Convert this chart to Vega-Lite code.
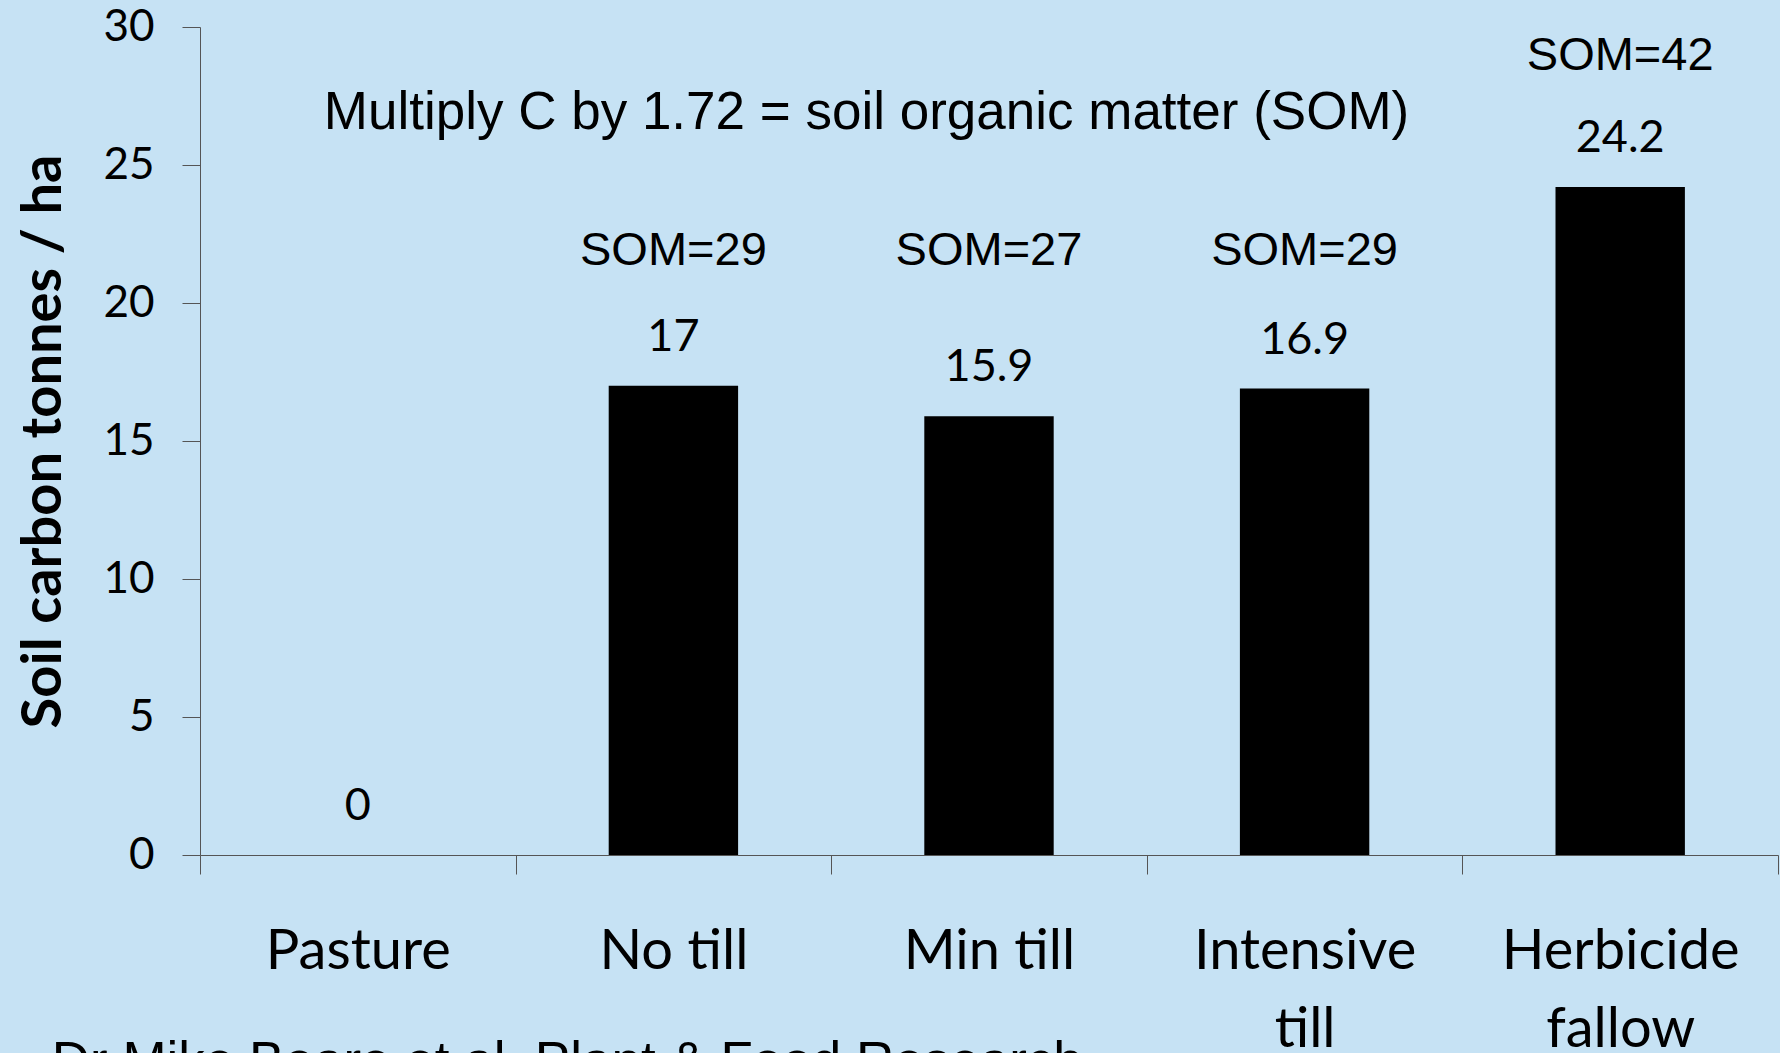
{
  "$schema": "https://vega.github.io/schema/vega-lite/v6.json",
  "width": 1578,
  "height": 828,
  "autosize": {"type": "none"},
  "padding": {"left": 200, "top": 27, "right": 2, "bottom": 198},
  "background": "#C6E2F4",
  "config": {
    "view": {"stroke": null},
    "axis": {"grid": false, "domainColor": "#555555", "tickColor": "#555555", "labelColor": "#000000", "titleColor": "#000000"}
  },
  "datasets": {
    "soil": [
      {"Treatment": "Pasture", "Carbon": 0, "SOM": null},
      {"Treatment": "No till", "Carbon": 17, "SOM": "SOM=29"},
      {"Treatment": "Min till", "Carbon": 15.9, "SOM": "SOM=27"},
      {"Treatment": "Intensive till", "Carbon": 16.9, "SOM": "SOM=29"},
      {"Treatment": "Herbicide fallow", "Carbon": 24.2, "SOM": "SOM=42"}
    ]
  },
  "data": {"name": "soil"},
  "layer": [
    {
      "mark": {"type": "bar", "color": "#000000", "width": {"band": 0.41}},
      "encoding": {
        "x": {
          "field": "Treatment", "type": "nominal", "sort": null,
          "scale": {"paddingInner": 0, "paddingOuter": 0},
          "axis": {
            "title": null, "labelAngle": 0, "tickBand": "extent", "tickSize": 19,
            "labelFont": "Lato", "labelFontSize": 56, "labelPadding": 50, "labelLineHeight": 78, "labelLimit": 0,
            "labelExpr": "datum.label == 'Intensive till' ? ['Intensive', 'till'] : datum.label == 'Herbicide fallow' ? ['Herbicide', 'fallow'] : datum.label"
          }
        },
        "y": {
          "field": "Carbon", "type": "quantitative",
          "scale": {"domain": [0, 30], "nice": false},
          "axis": {
            "title": "Soil carbon tonnes / ha", "values": [0, 5, 10, 15, 20, 25, 30],
            "tickSize": 18, "labelPadding": 28, "labelFont": "Lato", "labelFontSize": 44,
            "titleFont": "Lato", "titleFontWeight": "bold", "titleFontSize": 56, "titlePadding": 30
          }
        }
      }
    },
    {
      "mark": {"type": "text", "font": "Lato", "fontSize": 45, "baseline": "alphabetic", "dy": -35, "color": "#000000"},
      "encoding": {
        "x": {"field": "Treatment", "type": "nominal", "sort": null},
        "y": {"field": "Carbon", "type": "quantitative"},
        "text": {"field": "Carbon", "type": "quantitative"}
      }
    },
    {
      "transform": [{"filter": "datum.SOM != null && datum.Treatment != 'Herbicide fallow'"}],
      "mark": {"type": "text", "font": "Liberation Sans", "fontSize": 47, "baseline": "alphabetic", "color": "#000000"},
      "encoding": {
        "x": {"field": "Treatment", "type": "nominal", "sort": null},
        "y": {"datum": 21.37},
        "text": {"field": "SOM"}
      }
    },
    {
      "transform": [{"filter": "datum.Treatment == 'Herbicide fallow'"}],
      "mark": {"type": "text", "font": "Liberation Sans", "fontSize": 47, "baseline": "alphabetic", "color": "#000000"},
      "encoding": {
        "x": {"field": "Treatment", "type": "nominal", "sort": null},
        "y": {"datum": 28.46},
        "text": {"field": "SOM"}
      }
    },
    {
      "data": {"values": [{"note": "Multiply C by 1.72 = soil organic matter (SOM)"}]},
      "mark": {"type": "text", "font": "Liberation Sans", "fontSize": 53, "baseline": "alphabetic", "align": "left", "dx": -34, "color": "#000000"},
      "encoding": {
        "x": {"datum": "Pasture"},
        "y": {"datum": 26.3},
        "text": {"field": "note"}
      }
    },
    {
      "data": {"values": [{"note": "Dr Mike Beare et al, Plant & Food Research"}]},
      "mark": {"type": "text", "font": "Liberation Sans", "fontSize": 53, "baseline": "alphabetic", "align": "left", "dx": -306, "color": "#000000"},
      "encoding": {
        "x": {"datum": "Pasture"},
        "y": {"datum": -8.1},
        "text": {"field": "note"}
      }
    }
  ]
}
